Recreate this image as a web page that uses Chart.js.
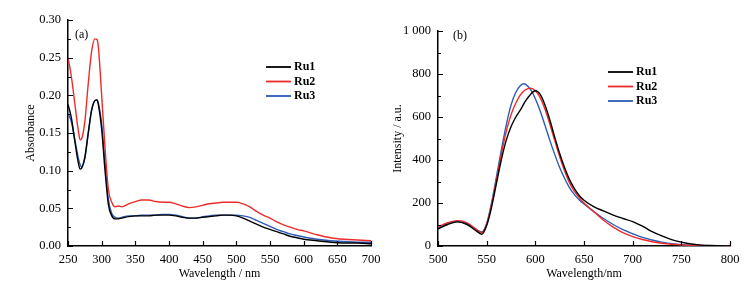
<!DOCTYPE html>
<html>
<head>
<meta charset="utf-8">
<script src="https://cdn.jsdelivr.net/npm/chart.js@4/dist/chart.umd.min.js"></script>
<style>
  body { margin: 0; background: #fff; }
  #wrap { position: relative; width: 755px; height: 287px; background: #fff; }
  #wrap canvas { position: absolute; top: 0; }
</style>
</head>
<body>
<div id="wrap">
  <canvas id="grafA" width="400" height="287" style="left:0px"></canvas>
  <canvas id="grafB" width="375" height="287" style="left:380px"></canvas>
</div>
<script>
// Gráfico (a) - absorbância
const wlA = [250,255,260,265,268,270,275,280,285,290,293,295,300,305,310,315,320,325,330,340,350,360,370,380,390,400,410,420,430,440,450,460,470,480,490,500,510,520,530,540,550,560,570,580,590,600,620,640,660,680,700];
const ru1A = [0.188,0.170,0.140,0.112,0.102,0.103,0.118,0.150,0.180,0.193,0.194,0.188,0.155,0.100,0.055,0.040,0.036,0.036,0.037,0.039,0.040,0.040,0.040,0.041,0.041,0.041,0.040,0.038,0.037,0.037,0.038,0.039,0.040,0.041,0.041,0.040,0.037,0.033,0.029,0.025,0.022,0.019,0.016,0.013,0.011,0.009,0.007,0.005,0.004,0.004,0.003];
const ru2A = [0.250,0.225,0.190,0.155,0.141,0.142,0.165,0.215,0.258,0.275,0.274,0.265,0.200,0.130,0.075,0.058,0.052,0.053,0.052,0.056,0.059,0.061,0.061,0.059,0.058,0.058,0.056,0.053,0.051,0.052,0.054,0.056,0.057,0.058,0.058,0.058,0.056,0.052,0.046,0.041,0.037,0.032,0.028,0.025,0.022,0.020,0.015,0.011,0.009,0.008,0.007];
const ru3A = [0.176,0.165,0.142,0.118,0.108,0.105,0.116,0.148,0.180,0.193,0.194,0.190,0.162,0.110,0.062,0.043,0.038,0.037,0.038,0.040,0.040,0.041,0.041,0.041,0.042,0.042,0.041,0.039,0.037,0.037,0.039,0.040,0.041,0.041,0.041,0.041,0.040,0.038,0.034,0.030,0.026,0.022,0.019,0.016,0.014,0.012,0.009,0.007,0.006,0.005,0.005];

// Gráfico (b) - emissão
const wlB = [500,510,520,530,540,545,550,555,560,565,570,575,580,585,588,590,595,600,605,610,615,620,625,630,635,640,645,650,660,670,680,690,700,710,720,730,740,750,760,770,780,790,800];
const ru1B = [80,100,112,100,68,55,95,180,290,400,490,555,600,635,660,675,705,722,705,655,585,505,430,365,310,268,235,213,183,163,144,128,113,92,67,47,30,18,9,4,2,1,0];
const ru2B = [90,108,118,108,75,62,100,190,305,425,530,610,665,705,720,727,734,722,690,635,565,490,415,350,295,255,225,200,160,120,88,62,44,30,20,13,8,5,3,2,1,0,0];
const ru3B = [85,104,115,104,75,65,105,200,320,445,560,655,715,748,755,752,728,685,628,560,490,425,365,315,272,240,215,195,160,128,100,76,57,40,28,18,11,6,3,2,1,0,0];

const nomes = ['Ru1','Ru2','Ru3'];
const cores = ['#000000','#ee2b2b','#2c5cb6'];

const fonte = 'Liberation Serif';

function pontos(xs, ys) {
  return xs.map((x, i) => ({x: x, y: ys[i]}));
}

// ticks para dentro, ticks menores, legenda e rótulo (a)/(b)
const extras = {
  id: 'extras',
  afterDraw(chart, args, opts) {
    const ctx = chart.ctx;
    const xs = chart.scales.x, ys = chart.scales.y;
    const area = chart.chartArea;
    ctx.save();
    ctx.strokeStyle = '#000';
    ctx.lineWidth = 1.2;
    ctx.beginPath();
    for (const t of xs.ticks) {
      const px = Math.round(xs.getPixelForValue(t.value)) + 0.5;
      ctx.moveTo(px, area.bottom);
      ctx.lineTo(px, area.bottom - 5);
    }
    for (const t of ys.ticks) {
      const py = Math.round(ys.getPixelForValue(t.value)) + 0.5;
      ctx.moveTo(area.left, py);
      ctx.lineTo(area.left + 5, py);
    }
    for (let v = ys.min + opts.minorY; v < ys.max; v += opts.minorY * 2) {
      const py = Math.round(ys.getPixelForValue(v)) + 0.5;
      ctx.moveTo(area.left, py);
      ctx.lineTo(area.left + 3, py);
    }
    ctx.stroke();

    // rótulo do painel
    ctx.fillStyle = '#000';
    ctx.font = '12px "' + fonte + '"';
    ctx.textBaseline = 'middle';
    ctx.textAlign = 'left';
    ctx.fillText(opts.label, area.left + opts.labelDx, area.top + opts.labelDy);

    // legenda
    ctx.font = 'bold 12px "' + fonte + '"';
    chart.data.datasets.forEach((ds, i) => {
      const y = opts.legY + i * 14.5;
      ctx.strokeStyle = ds.borderColor;
      ctx.lineWidth = 1.8;
      ctx.beginPath();
      ctx.moveTo(opts.legX, y);
      ctx.lineTo(opts.legX + 25, y);
      ctx.stroke();
      ctx.fillStyle = '#000';
      ctx.fillText(ds.label, opts.legX + 28, y);
    });
    ctx.restore();
  }
};

function opcoes(cfg) {
  return {
    responsive: false,
    animation: false,
    devicePixelRatio: 1,
    layout: { padding: cfg.padding },
    plugins: {
      legend: { display: false },
      tooltip: { enabled: false },
      extras: cfg.extras
    },
    elements: { point: { radius: 0 } },
    scales: {
      x: {
        type: 'linear',
        min: cfg.xmin, max: cfg.xmax,
        grid: { display: false, drawTicks: false },
        border: { display: true, color: '#000', width: 1.5 },
        ticks: {
          stepSize: 50, autoSkip: false, maxRotation: 0, padding: 6,
          color: '#000', font: { family: fonte, size: 12.5 }
        },
        title: {
          display: true, text: cfg.xtitle, color: '#000',
          font: { family: fonte, size: 12 }, padding: 0
        },
        afterFit: (s) => { s.height = 35; }
      },
      y: {
        min: cfg.ymin, max: cfg.ymax,
        grid: { display: false, drawTicks: false },
        border: { display: true, color: '#000', width: 1.5 },
        ticks: {
          stepSize: cfg.ystep, autoSkip: false, padding: 7,
          color: '#000', font: { family: fonte, size: 12.5 },
          callback: cfg.yfmt
        },
        title: {
          display: true, text: cfg.ytitle, color: '#000',
          font: { family: fonte, size: 12 }, padding: { top: cfg.ytitlePad, bottom: 0 }
        },
        afterFit: (s) => { s.width = cfg.ywidth; }
      }
    }
  };
}

function series(xs, listas) {
  return listas.map((ys, i) => ({
    label: nomes[i],
    data: pontos(xs, ys),
    borderColor: cores[i],
    backgroundColor: cores[i],
    borderWidth: 1.4,
    cubicInterpolationMode: 'monotone',
    fill: false
  }));
}

new Chart(document.getElementById('grafA'), {
  type: 'line',
  data: { datasets: series(wlA, [ru1A, ru2A, ru3A]) },
  options: opcoes({
    padding: { left: 0, right: 29, top: 20, bottom: 6 },
    xmin: 250, xmax: 700, ymin: 0, ymax: 0.30, ystep: 0.05,
    yfmt: (v) => v.toFixed(2),
    xtitle: 'Wavelength / nm', ytitle: 'Absorbance',
    ywidth: 68, ytitlePad: 24,
    extras: { minorY: 0.025, label: '(a)', labelDx: 7, labelDy: 15, legX: 266, legY: 67 }
  }),
  plugins: [extras]
});

new Chart(document.getElementById('grafB'), {
  type: 'line',
  data: { datasets: series(wlB, [ru1B, ru2B, ru3B]) },
  options: opcoes({
    padding: { left: 0, right: 25, top: 31, bottom: 6 },
    xmin: 500, xmax: 800, ymin: 0, ymax: 1000, ystep: 200,
    yfmt: (v) => v === 1000 ? '1 000' : String(v),
    xtitle: 'Wavelength/nm', ytitle: 'Intensity / a.u.',
    ywidth: 58, ytitlePad: 11,
    extras: { minorY: 100, label: '(b)', labelDx: 15, labelDy: 5, legX: 228, legY: 72 }
  }),
  plugins: [extras]
});
</script>
</body>
</html>
